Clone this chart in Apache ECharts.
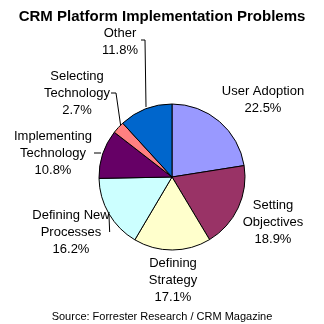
<!DOCTYPE html>
<html>
<head>
<meta charset="utf-8">
<script src="https://cdn.jsdelivr.net/npm/echarts@6/dist/echarts.min.js"></script>
<style>
  html, body { margin: 0; padding: 0; background: #fff; }
  #chart { width: 324px; height: 324px; }
</style>
</head>
<body>
<div id="chart"></div>
<script>
// data
const categories = [
  "User Adoption",
  "Setting\nObjectives",
  "Defining\nStrategy",
  "Defining New\nProcesses",
  "Implementing\nTechnology",
  "Selecting\nTechnology",
  "Other",
];
const values = [22.5, 18.9, 17.1, 16.2, 10.8, 2.7, 11.8];
const colors = ["#9999ff", "#993366", "#ffffcc", "#ccffff", "#660066", "#ff8080", "#0066cc"];
const withLine = [false, false, false, true, true, true, true];

// where each label sits (centre of the text block)
const labelPos = [
  [263, 100],
  [273, 222],
  [173, 280],
  [71, 232],
  [53, 153],
  [77, 93],
  [120, 42],
];
// elbow leader lines like the original (label side -> pie edge)
const leaderLines = {
  6: [[141, 40], [145, 40], [146, 107]],
  5: [[111, 93], [116, 93], [121, 128]],
  4: [[94, 153], [101, 153]],
};

const font = "Liberation Sans, Arial, sans-serif";

const chart = echarts.init(document.getElementById("chart"));

chart.setOption({
  animation: false,
  title: [
    {
      text: "CRM Platform Implementation Problems",
      left: "center",
      top: 4,
      textStyle: { fontFamily: font, fontSize: 15, fontWeight: "bold", color: "#000" },
    },
    {
      text: "Source: Forrester Research / CRM Magazine",
      left: "center",
      top: 306,
      textStyle: { fontFamily: font, fontSize: 11, fontWeight: "normal", color: "#000" },
    },
  ],
  series: [
    {
      type: "pie",
      center: [172, 177],
      radius: 73,
      startAngle: 90,
      clockwise: true,
      avoidLabelOverlap: false,
      itemStyle: { borderColor: "#000", borderWidth: 1 },
      label: {
        show: true,
        position: "outside",
        formatter: (p) => p.name + "\n" + p.value.toFixed(1) + "%",
        fontFamily: font,
        fontSize: 13,
        lineHeight: 17,
        color: "#000",
        align: "center",
      },
      labelLine: { lineStyle: { color: "#000", width: 1 }, length: 8, length2: 4 },
      labelLayout: (p) => {
        const out = {
          x: labelPos[p.dataIndex][0],
          y: labelPos[p.dataIndex][1],
          align: "center",
          verticalAlign: "middle",
        };
        if (leaderLines[p.dataIndex]) out.labelLinePoints = leaderLines[p.dataIndex];
        return out;
      },
      emphasis: { disabled: true },
      data: categories.map((name, i) => ({
        name,
        value: values[i],
        itemStyle: { color: colors[i] },
        labelLine: { show: withLine[i] },
      })),
    },
  ],
});
</script>
</body>
</html>
